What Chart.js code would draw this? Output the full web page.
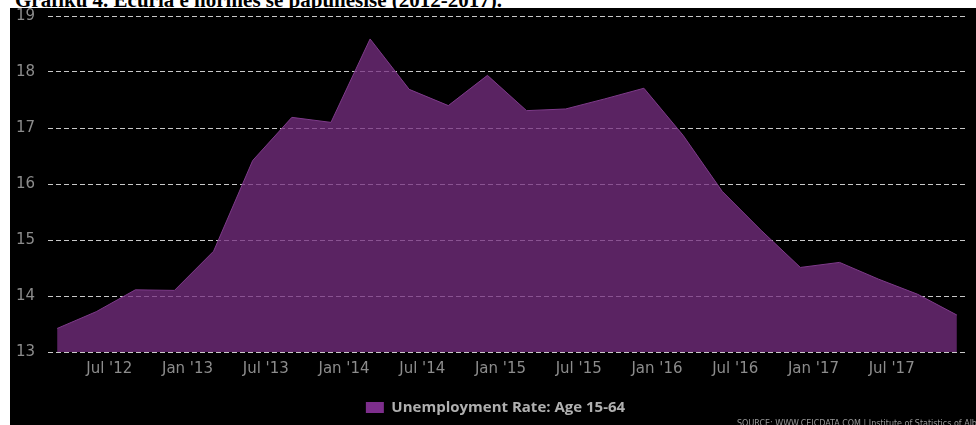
<!DOCTYPE html>
<html>
<head>
<meta charset="utf-8">
<script src="https://cdn.jsdelivr.net/npm/chart.js@4/dist/chart.umd.min.js"></script>
<style>
body{margin:0;background:#fff;width:976px;height:425px;overflow:hidden;position:relative}
#title{position:absolute;left:15px;top:-10px;font-family:"Liberation Serif","DejaVu Serif",serif;font-weight:bold;font-size:21px;line-height:21px;white-space:nowrap;color:#000}
#wrap{position:absolute;left:10px;top:8px;width:966px;height:417px;background:#000}
#source{position:absolute;left:737px;top:419px;font-family:"DejaVu Sans",sans-serif;font-size:8px;color:#999;white-space:nowrap}
</style>
</head>
<body>
<div id="title">Grafiku 4. Ecuria e normes se papunesise (2012-2017).</div>
<div id="wrap"><canvas id="cnv" width="966" height="417"></canvas></div>
<div id="source">SOURCE: WWW.CEICDATA.COM | Institute of Statistics of Albania</div>
<script>
// quarterly observations, dated by month
let periods = ['2012-03','2012-06','2012-09','2012-12',
    '2013-03','2013-06','2013-09','2013-12',
    '2014-03','2014-06','2014-09','2014-12',
    '2015-03','2015-06','2015-09','2015-12',
    '2016-03','2016-06','2016-09','2016-12',
    '2017-03','2017-06','2017-09','2017-12']
let unemployment = [13.42, 13.72, 14.11, 14.1,
    14.8, 16.42, 17.19, 17.1,
    18.59, 17.69, 17.4, 17.94,
    17.31, 17.34, 17.52, 17.71,
    16.87, 15.87, 15.17, 14.51,
    14.6, 14.3, 14.03, 13.66]
let tickDates = ['2012-07','2013-01','2013-07','2014-01','2014-07','2015-01',
    '2015-07','2016-01','2016-07','2017-01','2017-07']
let tickLabels = ["Jul '12","Jan '13","Jul '13","Jan '14","Jul '14","Jan '15",
    "Jul '15","Jan '16","Jul '16","Jan '17","Jul '17"]
let seriesName = 'Unemployment Rate: Age 15-64'

function monthIndex(d){
    let p = d.split('-')
    return (parseInt(p[0]) - 2012) * 12 + parseInt(p[1]) - 1
}

let points = periods.map((p, i) => ({x: monthIndex(p), y: unemployment[i]}))
let tickValues = tickDates.map(monthIndex)

let tickFont = {family: 'DejaVu Sans', size: 15}

new Chart(document.getElementById('cnv').getContext('2d'), {
    type: 'line',
    data: {
        datasets: [{
            label: seriesName,
            data: points,
            fill: 'start',
            backgroundColor: 'rgba(118,46,129,0.76)',
            borderColor: '#7e3a8a',
            borderWidth: 1,
            pointRadius: 0,
            tension: 0
        }]
    },
    options: {
        responsive: false,
        animation: false,
        devicePixelRatio: 1,
        layout: {padding: {top: 8, right: 0, left: 5, bottom: 0}},
        plugins: {
            tooltip: {enabled: false},
            legend: {
                position: 'bottom',
                labels: {
                    color: '#b0b0b0',
                    font: {family: 'Open Sans', size: 15, weight: 'bold'},
                    boxWidth: 18,
                    boxHeight: 11,
                    padding: 11,
                    generateLabels: (chart) => [{
                        text: seriesName,
                        fillStyle: '#7d2e8c',
                        strokeStyle: '#7d2e8c',
                        lineWidth: 0,
                        fontColor: '#b0b0b0',
                        datasetIndex: 0
                    }]
                }
            }
        },
        scales: {
            x: {
                type: 'linear',
                min: 1.3,
                max: 71.7,
                grid: {display: false, drawTicks: false},
                border: {display: false},
                afterBuildTicks: (s) => { s.ticks = tickValues.map(v => ({value: v})) },
                afterFit: (s) => { s.height = 37; s.paddingLeft = 0; s.paddingRight = 0 },
                ticks: {
                    color: '#8c8c8c',
                    font: tickFont,
                    padding: 8,
                    maxRotation: 0,
                    autoSkip: false,
                    callback: (v) => tickLabels[tickValues.indexOf(v)]
                }
            },
            y: {
                min: 13,
                max: 19,
                grid: {color: '#c8c8c8', drawTicks: false},
                border: {display: false, dash: [5, 3]},
                afterFit: (s) => { s.width = 33; s.paddingTop = 0; s.paddingBottom = 0 },
                ticks: {
                    stepSize: 1,
                    color: '#8c8c8c',
                    font: tickFont,
                    padding: 13
                }
            },
            // empty right-hand axis, only reserves the margin after the plot
            yRight: {
                position: 'right',
                min: 13,
                max: 19,
                grid: {display: false},
                border: {display: false},
                ticks: {display: false},
                afterFit: (s) => { s.width = 10; s.paddingTop = 0; s.paddingBottom = 0 }
            }
        }
    }
})
</script>
</body>
</html>
